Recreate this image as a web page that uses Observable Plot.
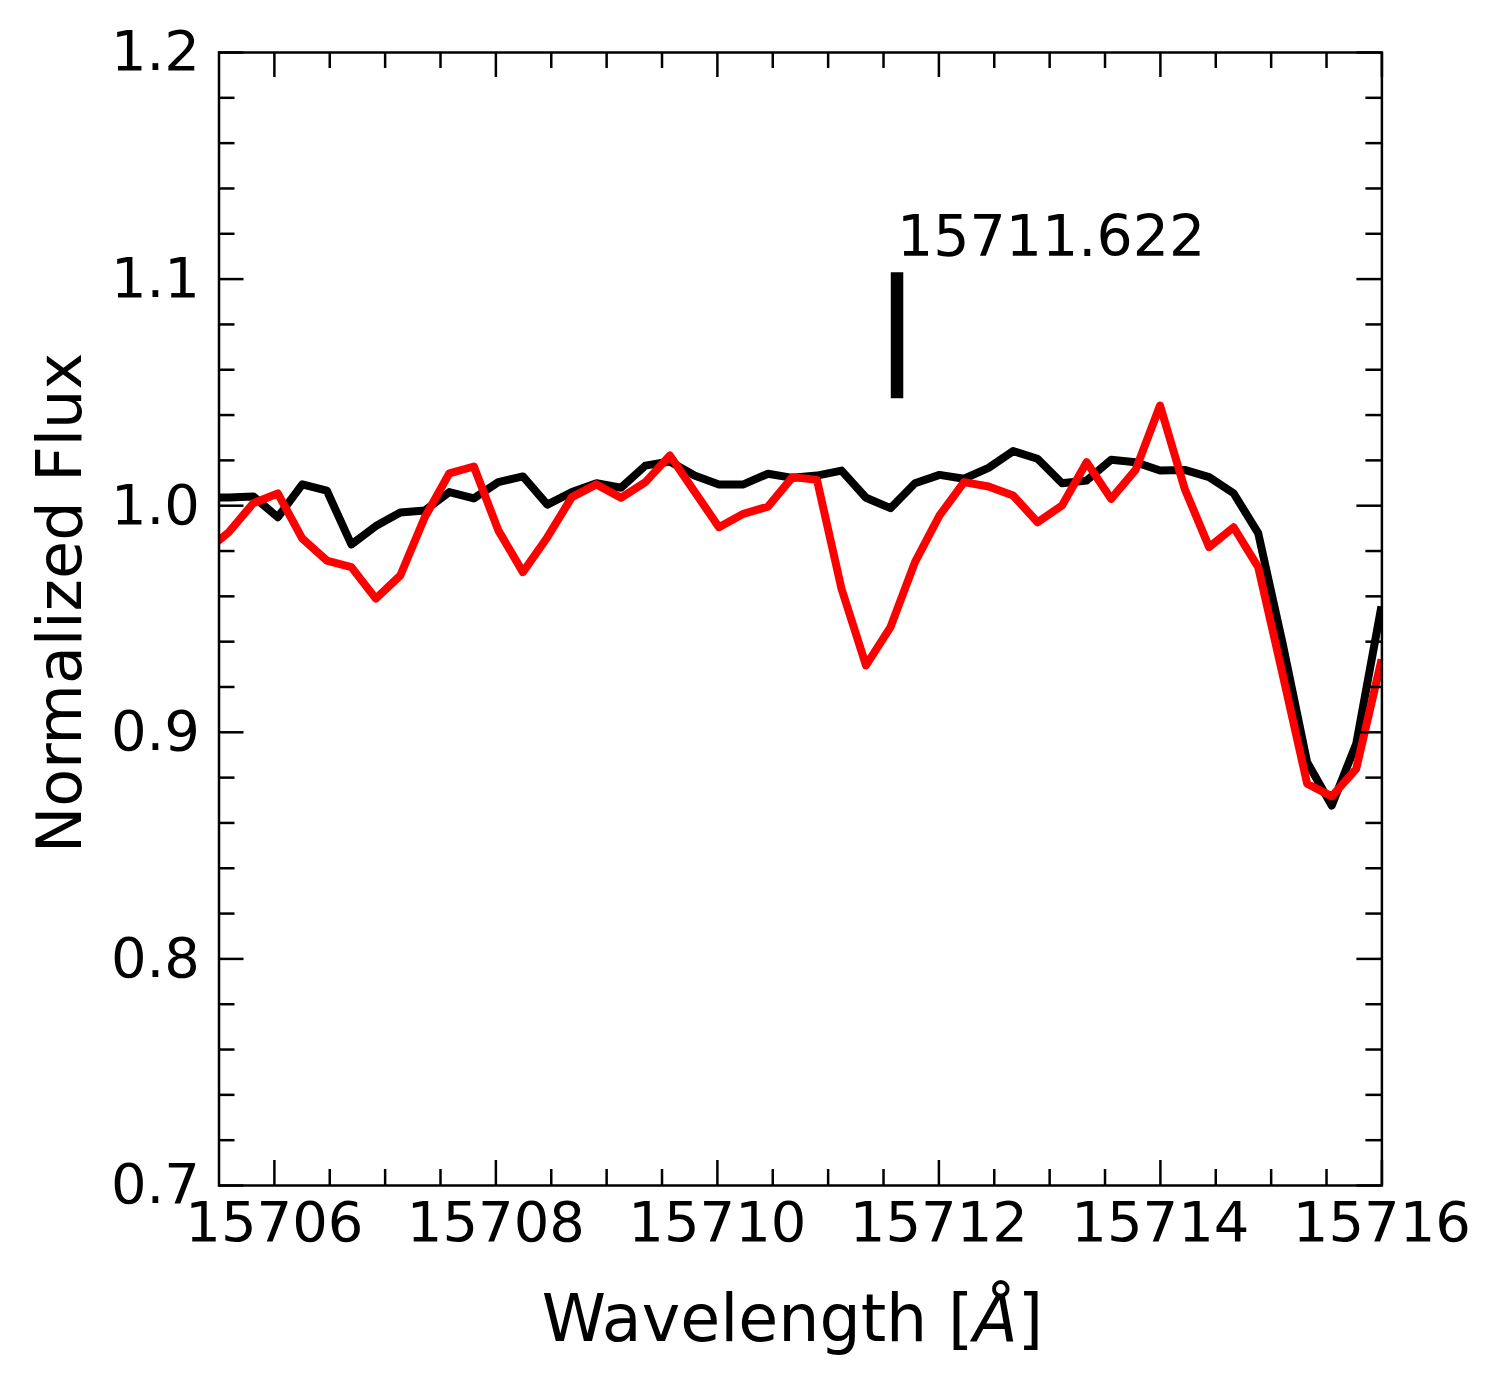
<!DOCTYPE html>
<html>
<head>
<meta charset="utf-8">
<script src="https://cdn.jsdelivr.net/npm/d3@7"></script>
<script src="https://cdn.jsdelivr.net/npm/@observablehq/plot@0.6"></script>
<style>
  html, body { margin: 0; padding: 0; background: #fff; }
  #chart svg { display: block; font-family: "DejaVu Sans", sans-serif; }
</style>
</head>
<body>
<div id="chart"></div>
<script>
// ---- data ----
const wavelength = [
  15705.367, 15705.588, 15705.809, 15706.031, 15706.252, 15706.473, 15706.695, 15706.916,
  15707.137, 15707.358, 15707.580, 15707.801, 15708.022, 15708.244, 15708.465, 15708.686,
  15708.908, 15709.129, 15709.350, 15709.571, 15709.793, 15710.014, 15710.235, 15710.457,
  15710.678, 15710.899, 15711.121, 15711.342, 15711.563, 15711.784, 15712.006, 15712.227,
  15712.448, 15712.670, 15712.891, 15713.112, 15713.334, 15713.555, 15713.776, 15713.997,
  15714.219, 15714.440, 15714.661, 15714.883, 15715.104, 15715.325, 15715.547, 15715.768,
  15715.989
];
const fluxObserved = [
  1.0036, 1.0036, 1.0041, 0.9949, 1.0094, 1.0067, 0.9829, 0.9910,
  0.9970, 0.9979, 1.0060, 1.0032, 1.0104, 1.0129, 1.0005, 1.0060,
  1.0099, 1.0079, 1.0177, 1.0195, 1.0133, 1.0094, 1.0094, 1.0141,
  1.0123, 1.0133, 1.0155, 1.0035, 0.9989, 1.0099, 1.0136, 1.0119,
  1.0167, 1.0241, 1.0207, 1.0099, 1.0111, 1.0203, 1.0192, 1.0155,
  1.0158, 1.0126, 1.0055, 0.9879, 0.9391, 0.8868, 0.8677, 0.8949,
  0.9538
];
const fluxModel = [
  0.9793, 0.9883, 1.0011, 1.0054, 0.9855, 0.9758, 0.9729, 0.9590,
  0.9692, 0.9949, 1.0143, 1.0173, 0.9891, 0.9707, 0.9861, 1.0038,
  1.0094, 1.0035, 1.0104, 1.0222, 1.0063, 0.9905, 0.9964, 0.9996,
  1.0126, 1.0114, 0.9633, 0.9295, 0.9464, 0.9751, 0.9957, 1.0104,
  1.0085, 1.0045, 0.9927, 1.0001, 1.0192, 1.0030, 1.0158, 1.0442,
  1.0075, 0.9817, 0.9905, 0.9729, 0.9255, 0.8773, 0.8717, 0.8839,
  0.9304
];
const xDomain = [15705.5, 15716];
const yDomain = [0.7, 1.2];
const xMajorTicks = [15706, 15708, 15710, 15712, 15714, 15716];
const xMinorTicks = [15706.5, 15707, 15707.5, 15708.5, 15709, 15709.5, 15710.5, 15711,
                     15711.5, 15712.5, 15713, 15713.5, 15714.5, 15715, 15715.5];
const yMajorTicks = [0.7, 0.8, 0.9, 1.0, 1.1, 1.2];
const yMinorTicks = [0.72, 0.74, 0.76, 0.78, 0.82, 0.84, 0.86, 0.88, 0.92, 0.94, 0.96, 0.98,
                     1.02, 1.04, 1.06, 1.08, 1.12, 1.14, 1.16, 1.18];
const lineWavelength = 15711.622;
const lineLabel = "15711.622";
const markerFlux = [1.05, 1.10];
const labelFlux = 1.11;
const xLabel = "Wavelength [Å]";
const yLabel = "Normalized Flux";

// ---- layout ----
const W = 1503, H = 1382;
const mL = 218.5, mR = 121.6, mT = 52, mB = 197;
const frameW = W - mL - mR, frameH = H - mT - mB;
const majorLen = 25, minorLen = 16, tickW = 2.5;

const rows = wavelength.map((w, i) => ({w, obs: fluxObserved[i], mod: fluxModel[i]}));

const tickOpts = {stroke: "black", strokeWidth: tickW};

const chart = Plot.plot({
  width: W,
  height: H,
  marginLeft: mL, marginRight: mR, marginTop: mT, marginBottom: mB,
  style: {fontFamily: "DejaVu Sans", fontSize: "55px", color: "black", background: "white"},
  x: {domain: xDomain, label: null},
  y: {domain: yDomain, label: null},
  marks: [
    Plot.line(rows, {x: "w", y: "obs", stroke: "black", strokeWidth: 8,
      strokeLinejoin: "round", strokeLinecap: "square", clip: true}),
    Plot.line(rows, {x: "w", y: "mod", stroke: "#ff0000", strokeWidth: 8,
      strokeLinejoin: "round", strokeLinecap: "square", clip: true}),
    Plot.ruleX([lineWavelength], {y1: markerFlux[0], y2: markerFlux[1], stroke: "black",
      strokeWidth: 12.5, strokeLinecap: "square"}),
    Plot.text([lineLabel], {x: lineWavelength, y: labelFlux, text: d => d,
      textAnchor: "start", lineAnchor: "bottom", fontSize: 57, fill: "black"}),
    // inward ticks, all four sides
    Plot.ruleX(xMajorTicks, {x: d => d, insetTop: frameH - majorLen, ...tickOpts}),
    Plot.ruleX(xMajorTicks, {x: d => d, insetBottom: frameH - majorLen, ...tickOpts}),
    Plot.ruleX(xMinorTicks, {x: d => d, insetTop: frameH - minorLen, ...tickOpts}),
    Plot.ruleX(xMinorTicks, {x: d => d, insetBottom: frameH - minorLen, ...tickOpts}),
    Plot.ruleY(yMajorTicks, {y: d => d, insetRight: frameW - majorLen, ...tickOpts}),
    Plot.ruleY(yMajorTicks, {y: d => d, insetLeft: frameW - majorLen, ...tickOpts}),
    Plot.ruleY(yMinorTicks, {y: d => d, insetRight: frameW - minorLen, ...tickOpts}),
    Plot.ruleY(yMinorTicks, {y: d => d, insetLeft: frameW - minorLen, ...tickOpts}),
    // tick labels
    Plot.axisX(xMajorTicks, {anchor: "bottom", tickSize: 0, tickPadding: 16, fontSize: 56,
      tickFormat: d => String(d), label: null}),
    Plot.axisY(yMajorTicks, {anchor: "left", tickSize: 0, tickPadding: 19, fontSize: 56,
      tickFormat: d3.format(".1f"), label: null}),
    // axis titles
    Plot.text([xLabel], {frameAnchor: "bottom", dy: 155, dx: -8, lineAnchor: "bottom",
      textAnchor: "middle", fontSize: 65, text: d => d, fill: "black"}),
    Plot.text([yLabel], {frameAnchor: "left", dx: -138, dy: -16, rotate: -90,
      textAnchor: "middle", lineAnchor: "bottom", fontSize: 62, text: d => d, fill: "black"}),
    Plot.frame({stroke: "black", strokeWidth: 2.5})
  ]
});

// italic Å in the x-axis title (matplotlib mathtext)
d3.select(chart).selectAll("text").each(function () {
  if (this.textContent === xLabel) {
    const t = d3.select(this);
    t.text(null);
    t.append("tspan").text("Wavelength [");
    t.append("tspan").attr("font-style", "italic").text("Å");
    t.append("tspan").text("]");
  }
});

document.getElementById("chart").appendChild(chart);
</script>
</body>
</html>
